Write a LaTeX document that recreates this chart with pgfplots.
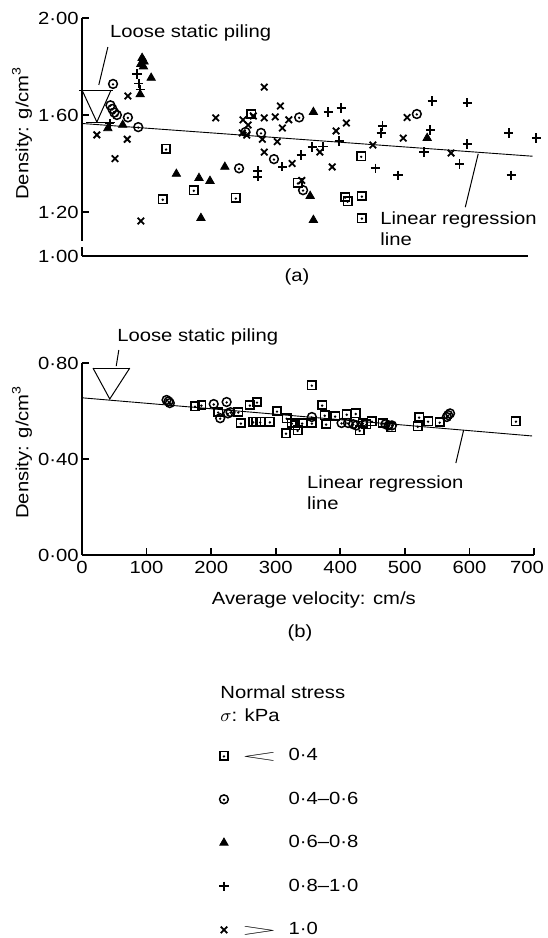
\documentclass[border=0pt]{standalone}
\usepackage{pgfplots}
\pgfplotsset{compat=1.18}
\usepackage{pgfplotstable}
\usepackage{graphicx}
\usepackage{fontspec}
\setmainfont{Liberation Sans}[FakeStretch=1.15]

\pgfdeclareplotmark{sqd}{%
  \pgfpathrectangle{\pgfpoint{-\pgfplotmarksize}{-\pgfplotmarksize}}{\pgfpoint{2\pgfplotmarksize}{2\pgfplotmarksize}}%
  \pgfusepathqstroke
  \pgfpathcircle{\pgfpoint{0pt}{-0.15\pgfplotmarksize}}{0.32\pgfplotmarksize}%
  \pgfusepathqfill}
\pgfdeclareplotmark{cid}{%
  \pgfpathcircle{\pgfpoint{0pt}{0pt}}{\pgfplotmarksize}%
  \pgfusepathqstroke
  \pgfpathcircle{\pgfpoint{0pt}{-0.1\pgfplotmarksize}}{0.3\pgfplotmarksize}%
  \pgfusepathqfill}

\pgfplotsset{
  mystyle/.style={
    scale only axis, clip=false,
    axis x line=bottom, axis y line=left,
    axis line style={-, line width=0.9pt},
    tick align=inside, major tick length=3.5pt,
    tick style={line width=0.8pt, black},
    xmin=0,
    yticklabel style={inner sep=1.5pt},
  },
  sq/.style={only marks, mark=sqd, mark size=2.1pt, mark options={line width=0.75pt, black, fill=black}},
  ci/.style={only marks, mark=cid, mark size=2.2pt, mark options={line width=0.75pt, black, fill=black}},
  tr/.style={only marks, mark=triangle*, mark size=2.4pt, mark options={black}},
  pl/.style={only marks, mark=+, mark size=2.3pt, mark options={line width=0.9pt, black}},
  xx/.style={only marks, mark=x, mark size=2.3pt, mark options={line width=0.9pt, black}},
  ann/.style={black, line width=0.5pt, mark=none},
  legimg/.style={legend image code/.code={\draw[##1] plot coordinates {(3pt,0pt)};}},
}

% ---------- panel (a) ----------
\pgfplotstableread{
x y
130 1.46
173 1.29
125 1.253
238 1.258
262 1.604
334 1.32
407 1.262
411 1.245
433 1.266
433 1.175
432 1.43
}\aSq
\pgfplotstableread{
x y
48 1.728
44 1.64
47 1.625
50 1.61
54 1.60
71 1.59
87 1.55
243 1.38
253 1.53
277 1.526
297 1.418
336 1.59
342 1.29
518 1.604
}\aCi
\pgfplotstableread{
x y
93 1.835
96 1.82
91 1.81
95 1.80
107 1.753
90 1.685
63 1.559
40 1.545
146 1.357
181 1.34
184 1.175
198 1.328
221 1.386
353 1.266
358 1.167
358 1.612
534 1.505
}\aTr
\pgfplotstableread{
x y
85 1.769
88 1.73
90 1.705
43 1.565
272 1.37
272 1.345
310 1.386
339 1.435
356 1.468
373 1.47
381 1.612
401 1.629
398 1.493
463 1.526
465 1.555
454 1.38
489 1.352
529 1.447
539 1.538
542 1.658
596 1.65
596 1.48
584 1.398
660 1.526
703 1.505
664 1.352
}\aPl
\pgfplotstableread{
x y
71 1.678
23 1.518
70 1.50
51 1.42
91 1.163
207 1.588
282 1.715
307 1.637
249 1.58
265 1.596
282 1.588
299 1.592
320 1.58
310 1.546
257 1.559
248 1.526
255 1.517
279 1.50
302 1.49
282 1.447
325 1.40
340 1.33
409 1.567
393 1.534
368 1.447
450 1.476
387 1.386
503 1.59
497 1.505
571 1.443
}\aXx

% ---------- panel (b) ----------
\pgfplotstableread{
x y
175 0.62
185 0.625
211 0.596
242 0.596
260 0.625
271 0.6375
246 0.55
265 0.555
270 0.555
276 0.555
291 0.555
302 0.60
317 0.57
316 0.508
325 0.55
334 0.52
341 0.55
356 0.708
372 0.625
376 0.583
392 0.579
378 0.546
424 0.59
410 0.587
430 0.52
435 0.55
449 0.558
466 0.55
479 0.533
522 0.575
520 0.537
536 0.558
554 0.554
672 0.558
356 0.55
330 0.54
440 0.545
}\bSq
\pgfplotstableread{
x y
131 0.646
136 0.633
134 0.64
226 0.59
230 0.595
356 0.575
567 0.583
570 0.59
565 0.575
470 0.545
475 0.54
480 0.54
420 0.545
425 0.54
412 0.55
402 0.55
214 0.57
204 0.629
224 0.6375
}\bCi

\begin{document}
\fontsize{8.8}{10.5}\selectfont
\begin{tikzpicture}
\useasboundingbox (0,0) rectangle (273.5pt,469pt);

% ===== (a) =====
\begin{axis}[mystyle,
  at={(41pt,341pt)}, anchor=south west,
  width=223pt, height=119pt,
  xmax=690, ymin=1.0186, ymax=2.0,
  xtick=\empty,
  ytick={1.0186,1.2,1.6,2.0},
  yticklabels={1·00,1·20,1·60,2·00},
  ylabel={Density: g/cm\textsuperscript{3}},
  ylabel style={at={(axis description cs:-0.1345,0.517)}, anchor=center},
]
\fill[white] (axis cs:-8,1.056) rectangle (axis cs:8,1.081);
\addplot[sq] table {\aSq};
\addplot[ci] table {\aCi};
\addplot[tr] table {\aTr};
\addplot[pl] table {\aPl};
\addplot[xx] table {\aXx};
% regression line
\addplot[ann, line width=0.45pt] coordinates {(0,1.565) (697,1.43)};
% loose static piling symbol
\addplot[ann] coordinates {(-5,1.703) (48,1.703)};
\addplot[ann] coordinates {(0,1.703) (23,1.571) (45,1.703)};
\addplot[ann] coordinates {(6,1.571) (51,1.571)};
\addplot[ann] coordinates {(40,1.88) (26,1.724)};
\addplot[ann] coordinates {(613,1.44) (593,1.22)};
\node[anchor=west, inner sep=0pt] at (axis cs:43,1.938) {Loose static piling};
\node[anchor=west, inner sep=0pt, align=left] at (axis cs:461,1.13) {Linear regression\\line};
\end{axis}

% ===== (b) =====
\begin{axis}[mystyle,
  at={(41pt,191.5pt)}, anchor=south west,
  width=226pt, height=96pt,
  xmax=700, ymin=0, ymax=0.8,
  xtick={0,100,200,300,400,500,600,700},
  xticklabels={0,100,200,300,400,500,600,700\kern7pt},
  ytick={0,0.4,0.8},
  yticklabels={0·00,0·40,0·80},
  ylabel={Density: g/cm\textsuperscript{3}},
  ylabel style={at={(axis description cs:-0.1327,0.536)}, anchor=center},
  xlabel={Average velocity: cm/s},
  xlabel style={at={(axis description cs:0.513,0)}, anchor=center, yshift=-22.5pt},
]
\addplot[sq] table {\bSq};
\addplot[ci] table {\bCi};
\addplot[ann, line width=0.45pt] coordinates {(0,0.655) (697,0.496)};
\addplot[ann] coordinates {(17,0.779) (74,0.779)};
\addplot[ann] coordinates {(17,0.779) (43,0.65) (74,0.779)};
\addplot[ann] coordinates {(57,0.854) (53,0.787)};
\addplot[ann] coordinates {(591,0.52) (579,0.383)};
\node[anchor=west, inner sep=0pt] at (axis cs:54,0.908) {Loose static piling};
\node[anchor=west, inner sep=0pt, align=left] at (axis cs:348,0.258) {Linear regression\\line};
\end{axis}

\node at (148.5pt,330.5pt) {(a)};
\node at (150pt,152.5pt) {(b)};

% ===== legend =====
\node[anchor=west, inner sep=0pt] at (110pt,123pt) {Normal stress};
\node[anchor=west, inner sep=0pt] at (110pt,111.5pt) {$\sigma$: kPa};
\begin{axis}[at={(0pt,0pt)}, anchor=south west, scale only axis,
  width=273.5pt, height=469pt, hide axis,
  xmin=0, xmax=1, ymin=0, ymax=1,
  legend cell align=left,
  legend style={at={(axis description cs:0.4003,0.2048)}, anchor=north west,
    draw=none, fill=none, inner sep=0pt, row sep=12.3pt,
    nodes={inner sep=1pt}},
]
\addlegendimage{sq, legimg}
\addlegendentry{\hspace{5pt}\makebox[24pt][l]{\scalebox{2.6}[0.8]{$<$}}0·4}
\addlegendimage{ci, legimg}
\addlegendentry{\hspace{5pt}\makebox[24pt][l]{}0·4–0·6}
\addlegendimage{tr, legimg}
\addlegendentry{\hspace{5pt}\makebox[24pt][l]{}0·6–0·8}
\addlegendimage{pl, legimg}
\addlegendentry{\hspace{5pt}\makebox[24pt][l]{}0·8–1·0}
\addlegendimage{xx, legimg}
\addlegendentry{\hspace{5pt}\makebox[24pt][l]{\scalebox{2.6}[0.8]{$>$}}1·0}
\end{axis}
\end{tikzpicture}
\end{document}
